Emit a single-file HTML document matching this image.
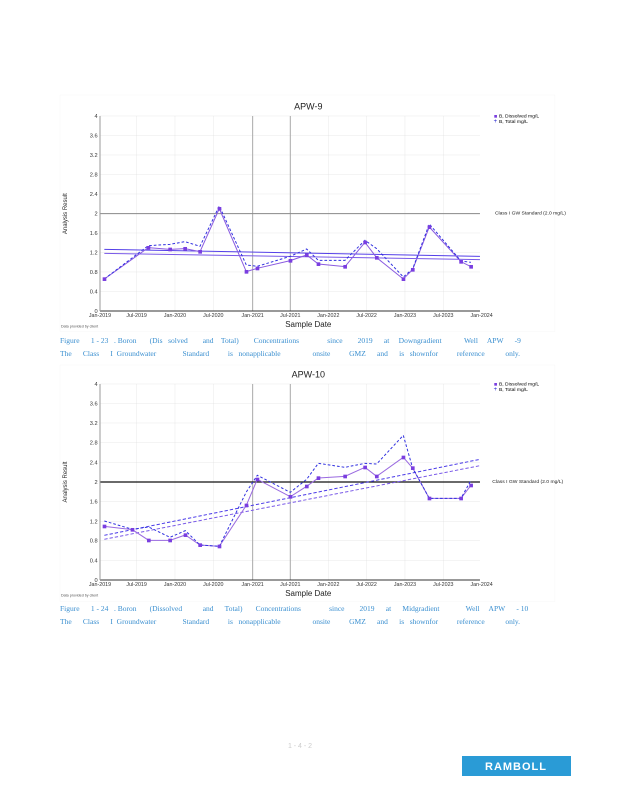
<!DOCTYPE html>
<html><head><meta charset="utf-8"><style>
body{margin:0;background:#fff;width:618px;height:800px;overflow:hidden;font-family:"Liberation Sans",sans-serif}
.cap{position:absolute;left:60px;font-family:"Liberation Serif",serif;font-size:7.5px;color:#3a8fd0;white-space:pre}
</style></head><body>
<svg width="618" height="800" style="position:absolute;left:0;top:0" font-family="Liberation Sans, sans-serif">
<!-- Chart 1 -->
<g transform="translate(55,95) scale(0.3333)">
<rect x="15" y="0" width="1485" height="710" fill="none" stroke="#f2f2f2"/>
<g stroke="#ddd">
<line x1="135" x2="1275" y1="63" y2="63"/><line x1="135" x2="1275" y1="121" y2="121"/><line x1="135" x2="1275" y1="180" y2="180"/><line x1="135" x2="1275" y1="238" y2="238"/><line x1="135" x2="1275" y1="297" y2="297"/><line x1="135" x2="1275" y1="414" y2="414"/><line x1="135" x2="1275" y1="472" y2="472"/><line x1="135" x2="1275" y1="531" y2="531"/><line x1="135" x2="1275" y1="589" y2="589"/>
<line y1="63" y2="648" x1="245" x2="245"/><line y1="63" y2="648" x1="360" x2="360"/><line y1="63" y2="648" x1="475" x2="475"/><line y1="63" y2="648" x1="820" x2="820"/><line y1="63" y2="648" x1="935" x2="935"/><line y1="63" y2="648" x1="1050" x2="1050"/><line y1="63" y2="648" x1="1165" x2="1165"/>
</g>
<g stroke="#aaa"><line y1="63" y2="648" x1="593" x2="593" stroke-width="3"/><line y1="63" y2="648" x1="706" x2="706" stroke-width="3"/></g>
<line x1="135" x2="1275" y1="356" y2="356" stroke="#888" stroke-width="3"/>
<line x1="135" x2="1275" y1="648" y2="648" stroke="#333" stroke-width="3"/>
<line x1="135" x2="135" y1="63" y2="648" stroke="#999" stroke-width="3"/>
<g font-size="17" fill="#333" text-anchor="end"><text x="128" y="69">4</text><text x="128" y="127">3.6</text><text x="128" y="186">3.2</text><text x="128" y="244">2.8</text><text x="128" y="303">2.4</text><text x="128" y="362">2</text><text x="128" y="420">1.6</text><text x="128" y="478">1.2</text><text x="128" y="537">0.8</text><text x="128" y="595">0.4</text><text x="128" y="654">0</text></g>
<g font-size="16" fill="#333" text-anchor="middle"><text x="135" y="666">Jan-2019</text><text x="245" y="666">Jul-2019</text><text x="360" y="666">Jan-2020</text><text x="475" y="666">Jul-2020</text><text x="593" y="666">Jan-2021</text><text x="706" y="666">Jul-2021</text><text x="820" y="666">Jan-2022</text><text x="935" y="666">Jul-2022</text><text x="1050" y="666">Jan-2023</text><text x="1165" y="666">Jul-2023</text><text x="1280" y="666">Jan-2024</text></g>
<text x="760" y="44" font-size="27" text-anchor="middle" fill="#222">APW-9</text>
<text x="760" y="696" font-size="24" text-anchor="middle" fill="#222">Sample Date</text>
<text x="36" y="356" font-size="18" fill="#222" text-anchor="middle" transform="rotate(-90 36 356)">Analysis Result</text>
<text x="1320" y="359" font-size="15" fill="#222">Class I GW Standard (2.0 mg/L)</text>
<text x="18" y="698" font-size="11" fill="#555">Data provided by client</text>
<rect x="1318" y="60" width="8" height="8" fill="#7a3ee0"/><text x="1332" y="68" font-size="15">B, Dissolved mg/L</text>
<text x="1316" y="84" font-size="18" fill="#2020d0">+</text><text x="1332" y="84" font-size="15">B, Total mg/L</text>
<g fill="none" stroke-width="3">
<line x1="148" y1="463" x2="1275" y2="484" stroke="#5540e8"/><line x1="148" y1="475" x2="1275" y2="494" stroke="#7a5ae8"/>
<polyline stroke="#8a5ae0" points="148,552 280,458 345,463 390,461 435,470 493,341 574,530 607,520 706,497 755,480 790,507 870,515 930,442 965,488 1045,552 1073,524 1123,396 1218,500 1248,515"/>
<polyline stroke="#3030e0" stroke-dasharray="8,6" points="148,552 280,452 345,448 390,440 435,454 493,333 574,510 607,514 706,484 755,462 790,496 870,496 930,436 965,461 1045,546 1073,522 1123,387 1218,498 1248,502"/>
</g>
<g fill="#7a3ee0"><rect x="143" y="547" width="11" height="11"/><rect x="275" y="453" width="11" height="11"/><rect x="340" y="458" width="11" height="11"/><rect x="385" y="456" width="11" height="11"/><rect x="430" y="465" width="11" height="11"/><rect x="488" y="336" width="11" height="11"/><rect x="569" y="525" width="11" height="11"/><rect x="602" y="515" width="11" height="11"/><rect x="701" y="492" width="11" height="11"/><rect x="750" y="475" width="11" height="11"/><rect x="785" y="502" width="11" height="11"/><rect x="865" y="510" width="11" height="11"/><rect x="925" y="437" width="11" height="11"/><rect x="960" y="483" width="11" height="11"/><rect x="1040" y="547" width="11" height="11"/><rect x="1068" y="519" width="11" height="11"/><rect x="1118" y="391" width="11" height="11"/><rect x="1213" y="495" width="11" height="11"/><rect x="1243" y="510" width="11" height="11"/></g>
</g>

<!-- Chart 2 -->
<g transform="translate(55,365) scale(0.3333)">
<rect x="15" y="0" width="1485" height="710" fill="none" stroke="#f2f2f2"/>
<g stroke="#ddd">
<line x1="135" x2="1275" y1="57" y2="57"/><line x1="135" x2="1275" y1="116" y2="116"/><line x1="135" x2="1275" y1="174" y2="174"/><line x1="135" x2="1275" y1="233" y2="233"/><line x1="135" x2="1275" y1="292" y2="292"/><line x1="135" x2="1275" y1="410" y2="410"/><line x1="135" x2="1275" y1="469" y2="469"/><line x1="135" x2="1275" y1="527" y2="527"/><line x1="135" x2="1275" y1="586" y2="586"/>
<line y1="57" y2="645" x1="245" x2="245"/><line y1="57" y2="645" x1="360" x2="360"/><line y1="57" y2="645" x1="475" x2="475"/><line y1="57" y2="645" x1="820" x2="820"/><line y1="57" y2="645" x1="935" x2="935"/><line y1="57" y2="645" x1="1050" x2="1050"/><line y1="57" y2="645" x1="1165" x2="1165"/>
</g>
<g stroke="#aaa"><line y1="57" y2="645" x1="593" x2="593" stroke-width="3"/><line y1="57" y2="645" x1="706" x2="706" stroke-width="3"/></g>
<line x1="135" x2="1275" y1="351" y2="351" stroke="#111" stroke-width="4"/>
<line x1="135" x2="1275" y1="645" y2="645" stroke="#333" stroke-width="3"/>
<line x1="135" x2="135" y1="57" y2="645" stroke="#999" stroke-width="3"/>
<g font-size="17" fill="#333" text-anchor="end"><text x="128" y="63">4</text><text x="128" y="122">3.6</text><text x="128" y="180">3.2</text><text x="128" y="239">2.8</text><text x="128" y="298">2.4</text><text x="128" y="357">2</text><text x="128" y="416">1.6</text><text x="128" y="475">1.2</text><text x="128" y="533">0.8</text><text x="128" y="592">0.4</text><text x="128" y="651">0</text></g>
<g font-size="16" fill="#333" text-anchor="middle"><text x="135" y="663">Jan-2019</text><text x="245" y="663">Jul-2019</text><text x="360" y="663">Jan-2020</text><text x="475" y="663">Jul-2020</text><text x="593" y="663">Jan-2021</text><text x="706" y="663">Jul-2021</text><text x="820" y="663">Jan-2022</text><text x="935" y="663">Jul-2022</text><text x="1050" y="663">Jan-2023</text><text x="1165" y="663">Jul-2023</text><text x="1280" y="663">Jan-2024</text></g>
<text x="760" y="38" font-size="27" text-anchor="middle" fill="#222">APW-10</text>
<text x="760" y="693" font-size="24" text-anchor="middle" fill="#222">Sample Date</text>
<text x="36" y="351" font-size="18" fill="#222" text-anchor="middle" transform="rotate(-90 36 351)">Analysis Result</text>
<text x="1312" y="354" font-size="15" fill="#222">Class I GW Standard (2.0 mg/L)</text>
<text x="18" y="695" font-size="11" fill="#555">Data provided by client</text>
<rect x="1318" y="54" width="8" height="8" fill="#7a3ee0"/><text x="1332" y="62" font-size="15">B, Dissolved mg/L</text>
<text x="1316" y="78" font-size="18" fill="#2020d0">+</text><text x="1332" y="78" font-size="15">B, Total mg/L</text>
<g fill="none" stroke-width="3">
<line x1="148" y1="511" x2="1275" y2="283" stroke="#4a3ae8" stroke-dasharray="10,6"/><line x1="148" y1="523" x2="1275" y2="302" stroke="#7a5ae8" stroke-dasharray="10,6"/>
<polyline stroke="#9a6ae0" points="148,484 232,494 281,526 345,526 391,510 435,540 493,544 574,421 607,343 706,395 755,364 790,339 870,334 930,307 965,334 1045,277 1073,309 1123,400 1218,400 1248,361"/>
<polyline stroke="#3030e0" stroke-dasharray="8,6" points="148,468 232,493 281,486 345,517 391,497 435,540 493,544 574,381 607,331 706,382 755,343 790,295 870,307 930,295 965,297 1045,211 1073,309 1123,400 1218,400 1248,346"/>
</g>
<g fill="#7a3ee0"><rect x="143" y="479" width="11" height="11"/><rect x="227" y="489" width="11" height="11"/><rect x="276" y="521" width="11" height="11"/><rect x="340" y="521" width="11" height="11"/><rect x="386" y="505" width="11" height="11"/><rect x="430" y="535" width="11" height="11"/><rect x="488" y="539" width="11" height="11"/><rect x="569" y="416" width="11" height="11"/><rect x="602" y="338" width="11" height="11"/><rect x="701" y="390" width="11" height="11"/><rect x="750" y="359" width="11" height="11"/><rect x="785" y="334" width="11" height="11"/><rect x="865" y="329" width="11" height="11"/><rect x="925" y="302" width="11" height="11"/><rect x="960" y="329" width="11" height="11"/><rect x="1040" y="272" width="11" height="11"/><rect x="1068" y="304" width="11" height="11"/><rect x="1118" y="395" width="11" height="11"/><rect x="1213" y="395" width="11" height="11"/><rect x="1243" y="356" width="11" height="11"/></g>
</g>
<text x="300" y="748" font-size="7" fill="#ccc" text-anchor="middle">1 - 4 - 2</text>
<rect x="462" y="756" width="109" height="20" fill="#2a9bd6"/>
<text x="516" y="770" font-size="11" font-weight="bold" fill="#fff" text-anchor="middle" letter-spacing="1">RAMBOLL</text>
</svg>
<div class="cap" style="top:336px">Figure      1 - 23   . Boron       (Dis   solved        and    Total)        Concentrations               since        2019      at     Downgradient            Well     APW      -9</div>
<div class="cap" style="top:349px">The      Class      I  Groundwater              Standard          is   nonapplicable                 onsite          GMZ      and      is   shownfor          reference           only.</div>
<div class="cap" style="top:604px">Figure      1 - 24   . Boron       (Dissolved           and      Total)       Concentrations               since        2019      at      Midgradient              Well     APW      - 10</div>
<div class="cap" style="top:617px">The      Class      I  Groundwater              Standard          is   nonapplicable                 onsite          GMZ      and      is   shownfor          reference           only.</div>
</body></html>
